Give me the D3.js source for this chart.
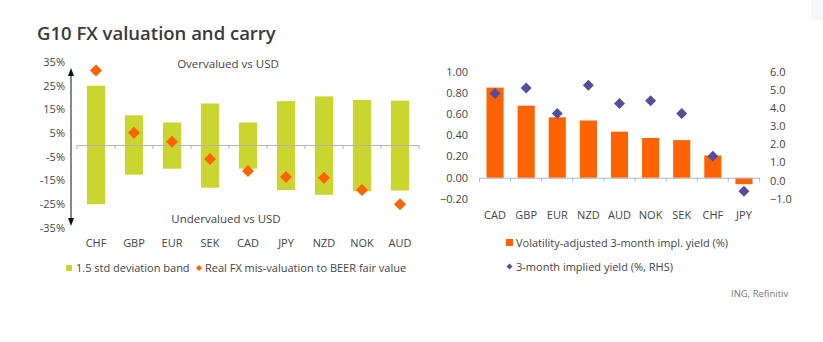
<!DOCTYPE html>
<html>
<head>
<meta charset="utf-8">
<script src="https://cdn.jsdelivr.net/npm/d3@7"></script>
<style>
  body { margin: 0; background: #fff; }
  svg { display: block; font-family: "Open Sans", "Noto Sans", sans-serif; }
</style>
</head>
<body>
<svg id="chart" width="823" height="342"></svg>
<script>
// Left panel: valuation bands and BEER misvaluation (%)
const valCategories = ["CHF", "GBP", "EUR", "SEK", "CAD", "JPY", "NZD", "NOK", "AUD"];
const bandUpper = [25, 12.5, 9.5, 17.5, 9.5, 18.5, 20.5, 19, 18.7];
const bandLower = [-25, -12.5, -10, -18, -10, -19, -21, -19.5, -19.2];
const misvaluation = [31.4, 5.2, 1.4, -5.9, -11, -13.5, -13.8, -19, -25];
const valTicks = [35, 25, 15, 5, -5, -15, -25, -35];

// Right panel: carry (vol-adjusted and raw implied yields)
const carryCategories = ["CAD", "GBP", "EUR", "NZD", "AUD", "NOK", "SEK", "CHF", "JPY"];
const volAdjYield = [0.85, 0.68, 0.57, 0.54, 0.435, 0.375, 0.355, 0.21, -0.06];
const impliedYield = [4.8, 5.1, 3.7, 5.25, 4.25, 4.4, 3.7, 1.35, -0.58];
const leftTicks = [1.0, 0.8, 0.6, 0.4, 0.2, 0.0, -0.2];
const rightTicks = [6, 5, 4, 3, 2, 1, 0, -1];

const GREEN = "#cbd52f", ORANGE = "#ff6200", PURPLE = "#524f9e", TEXT = "#444";
const svg = d3.select("#chart");

function diamond(x, y, h) {
  return `M${x},${y - h}L${x + h},${y}L${x},${y + h}L${x - h},${y}Z`;
}

// faint corner box
svg.append("rect").attr("x", 811).attr("y", 0).attr("width", 12).attr("height", 20)
  .attr("fill", "#f6f7f8");

// title
svg.append("text").attr("x", 37).attr("y", 40)
  .attr("font-size", 18.5).attr("font-weight", 600).attr("fill", "#3a3a3a")
  .text("G10 FX valuation and carry");

// ---------- left panel ----------
const xL = d3.scaleBand().domain(valCategories).range([77, 419])
  .paddingInner(0.52).paddingOuter(0.26);
const yL = d3.scaleLinear().domain([-35, 35]).range([228, 62]);

const gL = svg.append("g");
gL.selectAll("rect.band").data(valCategories).join("rect")
  .attr("x", d => xL(d)).attr("width", xL.bandwidth())
  .attr("y", (d, i) => yL(bandUpper[i]))
  .attr("height", (d, i) => yL(bandLower[i]) - yL(bandUpper[i]))
  .attr("fill", GREEN);

// zero baseline with category ticks
const axL = d3.axisBottom(xL).tickSize(0).tickFormat("");
const zeroL = gL.append("g").attr("transform", `translate(0,${yL(0)})`).call(axL);
zeroL.select(".domain").attr("stroke", "#b5b5b5");
const bL = [xL.range()[0]].concat(valCategories.map(c => xL(c) + xL.bandwidth() + xL.step() * xL.paddingInner() / 2));
zeroL.selectAll("line.bt").data(bL).join("line")
  .attr("x1", d => d).attr("x2", d => d).attr("y1", 0).attr("y2", 4)
  .attr("stroke", "#b5b5b5");

gL.selectAll("path.mis").data(valCategories).join("path")
  .attr("d", (d, i) => diamond(xL(d) + xL.bandwidth() / 2, yL(misvaluation[i]), 6))
  .attr("fill", ORANGE);

// vertical arrowed axis
const axX = 71;
gL.append("line").attr("x1", axX).attr("x2", axX).attr("y1", 72).attr("y2", 222)
  .attr("stroke", "#111").attr("stroke-width", 1);
gL.append("path").attr("d", `M${axX},68L${axX - 3},76L${axX + 3},76Z`).attr("fill", "#111");
gL.append("path").attr("d", `M${axX},226L${axX - 3},218L${axX + 3},218Z`).attr("fill", "#111");

gL.selectAll("text.yt").data(valTicks).join("text")
  .attr("x", 65).attr("y", d => yL(d)).attr("dy", "0.35em")
  .attr("text-anchor", "end").attr("font-size", 11).attr("fill", TEXT)
  .text(d => d + "%");

gL.selectAll("text.xc").data(valCategories).join("text")
  .attr("x", d => xL(d) + xL.bandwidth() / 2).attr("y", 247)
  .attr("text-anchor", "middle").attr("font-size", 11).attr("fill", TEXT)
  .text(d => d);

gL.append("text").attr("x", 228).attr("y", 68).attr("text-anchor", "middle")
  .attr("font-size", 11.5).attr("fill", TEXT).text("Overvalued vs USD");
gL.append("text").attr("x", 226).attr("y", 223).attr("text-anchor", "middle")
  .attr("font-size", 11.5).attr("fill", TEXT).text("Undervalued vs USD");

// left legend
gL.append("rect").attr("x", 66).attr("y", 265).attr("width", 6).attr("height", 6).attr("fill", GREEN);
gL.append("text").attr("x", 76).attr("y", 272).attr("font-size", 11).attr("fill", TEXT)
  .text("1.5 std deviation band");
gL.append("path").attr("d", diamond(199, 268, 3)).attr("fill", ORANGE);
gL.append("text").attr("x", 205).attr("y", 272).attr("font-size", 11).attr("fill", TEXT)
  .text("Real FX mis-valuation to BEER fair value");

// ---------- right panel ----------
const xR = d3.scaleBand().domain(carryCategories).range([479.5, 759.5])
  .paddingInner(0.45).paddingOuter(0.225);
const yR1 = d3.scaleLinear().domain([-0.2, 1.0]).range([199, 71.7]);
const yR2 = d3.scaleLinear().domain([-1, 6]).range([199, 71.7]);

const gR = svg.append("g");
gR.selectAll("rect.bar").data(carryCategories).join("rect")
  .attr("x", d => xR(d)).attr("width", xR.bandwidth())
  .attr("y", (d, i) => yR1(Math.max(0, volAdjYield[i])))
  .attr("height", (d, i) => Math.abs(yR1(volAdjYield[i]) - yR1(0)))
  .attr("fill", ORANGE);

const zeroR = gR.append("g").attr("transform", `translate(0,${yR1(0)})`)
  .call(d3.axisBottom(xR).tickSize(0).tickFormat(""));
zeroR.select(".domain").attr("stroke", "#aabbd0");
const bR = [xR.range()[0]].concat(carryCategories.map(c => xR(c) + xR.bandwidth() + xR.step() * xR.paddingInner() / 2));
zeroR.selectAll("line.bt").data(bR).join("line")
  .attr("x1", d => d).attr("x2", d => d).attr("y1", 0).attr("y2", 4)
  .attr("stroke", "#aabbd0");

gR.selectAll("path.iy").data(carryCategories).join("path")
  .attr("d", (d, i) => diamond(xR(d) + xR.bandwidth() / 2, yR2(impliedYield[i]), 5.5))
  .attr("fill", PURPLE);

gR.selectAll("text.yl").data(leftTicks).join("text")
  .attr("x", 468).attr("y", d => yR1(d)).attr("dy", "0.35em")
  .attr("text-anchor", "end").attr("font-size", 11).attr("fill", TEXT)
  .text(d => d3.format(".2f")(d));
gR.selectAll("text.yr").data(rightTicks).join("text")
  .attr("x", 770).attr("y", d => yR2(d)).attr("dy", "0.35em")
  .attr("text-anchor", "start").attr("font-size", 11).attr("fill", TEXT)
  .text(d => d3.format(".1f")(d));

gR.selectAll("text.xc").data(carryCategories).join("text")
  .attr("x", d => xR(d) + xR.bandwidth() / 2).attr("y", 219)
  .attr("text-anchor", "middle").attr("font-size", 11).attr("fill", TEXT)
  .text(d => d);

// right legend
gR.append("rect").attr("x", 506).attr("y", 239).attr("width", 7).attr("height", 7).attr("fill", ORANGE);
gR.append("text").attr("x", 516).attr("y", 247).attr("font-size", 11).attr("fill", TEXT)
  .text("Volatility-adjusted 3-month impl. yield (%)");
gR.append("path").attr("d", diamond(509.5, 266.5, 3)).attr("fill", PURPLE);
gR.append("text").attr("x", 516).attr("y", 271).attr("font-size", 11).attr("fill", TEXT)
  .text("3-month implied yield (%, RHS)");

// source
svg.append("text").attr("x", 731).attr("y", 297).attr("font-size", 9.5).attr("fill", "#777")
  .text("ING, Refinitiv");
</script>
</body>
</html>
